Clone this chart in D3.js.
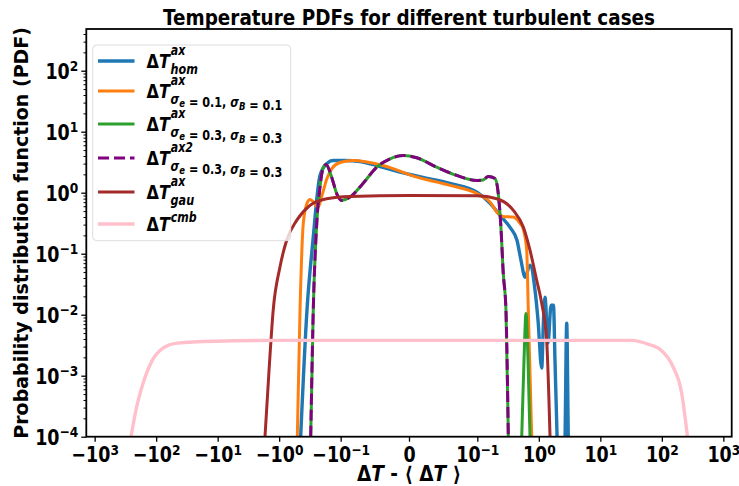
<!DOCTYPE html>
<html>
<head>
<meta charset="utf-8">
<script src="https://cdn.jsdelivr.net/npm/d3@7"></script>
<style>
  body { margin: 0; background: #fff; }
  svg { display: block; font-family: "DejaVu Sans", sans-serif; font-weight: bold; }
</style>
</head>
<body>
<svg id="chart" width="739" height="486"></svg>
<script>
//// Data (x = ΔT - <ΔT>, y = PDF)
const homX = [-0.447, -0.353, -0.282, -0.217, -0.167, -0.133, -0.0937, -0.0717, -0.0424, -0.0132, 0.0234, 0.060, 0.0995, 0.161, 0.234, 0.340, 0.441, 0.513, 0.596, 0.718, 0.867, 0.970, 1.114, 1.19, 1.26, 1.41, 1.58, 1.73, 1.83, 1.98, 2.29, 2.67, 2.84, 3.01, 3.3];
const homY = [1e-4, 0.0119, 0.166, 1.92, 3.02, 3.38, 3.38, 3.25, 2.69, 2.17, 1.75, 1.42, 1.02, 0.668, 0.425, 0.270, 0.166, 0.078, 0.0411, 0.0646, 0.0252, 0.0081, 0.00133, 0.0081, 0.0193, 0.00342, 0.0143, 0.0143, 0.0018, 1e-4, 1e-6, 1e-4, 0.00726, 1e-4, 1e-6];

const s01X = [-0.507, -0.458, -0.405, -0.353, -0.315, -0.272, -0.234, -0.201, -0.167, -0.138, -0.1026, -0.082, -0.038, 0.0117, 0.060, 0.0995, 0.161, 0.217, 0.261, 0.380, 0.494, 0.553, 0.635, 0.674, 0.766];
const s01Y = [1e-4, 0.0119, 0.315, 0.668, 0.776, 0.694, 0.574, 0.904, 1.71, 2.50, 3.13, 3.38, 2.80, 1.80, 1.32, 0.964, 0.702, 0.458, 0.409, 0.399, 0.315, 0.260, 0.114, 0.0119, 1e-4];

const s03X = [-0.307, -0.279, -0.245, -0.217, -0.191, -0.173, -0.140, -0.116, -0.0985, -0.0863, -0.0673, -0.0473, -0.0278, -0.0083, 0.0113, 0.0405, 0.0698, 0.0991, 0.124, 0.151, 0.194, 0.219, 0.240, 0.264, 0.292, 0.319];
const s03Y = [1e-4, 0.0119, 0.315, 1.24, 2.62, 2.90, 1.80, 0.964, 0.748, 0.847, 1.42, 2.62, 3.60, 4.08, 3.74, 2.62, 1.92, 1.59, 1.62, 1.85, 1.71, 0.964, 0.31, 0.0477, 0.0119, 1e-4];
// extra narrow spike of the sigma=0.3 case (not in ax2)
const spikeX = [0.42, 0.527, 0.574, 0.618, 0.667, 0.718, 0.8];
const spikeY = [1e-7, 1e-4, 0.0018, 0.0105, 0.0018, 1e-4, 1e-7];

const gauX = [-1.70, -1.46, -1.25, -0.970, -0.755, -0.519, -0.315, -0.169, -0.0863, 0, 0.0991, 0.207, 0.385, 0.559, 0.718, 0.923, 1.114, 1.34, 1.52];
const gauY = [1e-4, 0.00124, 0.0119, 0.0605, 0.166, 0.352, 0.62, 0.797, 0.869, 0.904, 0.89, 0.797, 0.513, 0.273, 0.114, 0.0367, 0.0154, 0.00383, 1e-4];

const cmbX = [-256, -213, -170, -115, -77.4, -45, -11, -1, 0, 1, 10, 32.7, 59.6, 97, 152, 210, 261];
const cmbY = [1e-4, 2.74e-4, 6.58e-4, 0.0018, 0.00283, 0.00342, 0.00368, 0.0038, 0.0038, 0.0038, 0.0038, 0.0038, 0.00329, 0.00262, 0.0014, 5.19e-4, 1e-4];

//// Ticks
const xTickValues = [-1000, -100, -10, -1, -0.1, 0, 0.1, 1, 10, 100, 1000];
const xTickLabels = ['−10^3', '−10^2', '−10^1', '−10^0', '−10^−1', '0', '10^−1', '10^0', '10^1', '10^2', '10^3'];
const yTickValues = [1e-4, 1e-3, 1e-2, 1e-1, 1, 10, 100];
const yTickLabels = ['10^−4', '10^−3', '10^−2', '10^−1', '10^0', '10^1', '10^2'];

//// Legend text
const legendSup = ['ax', 'ax', 'ax', 'ax2', 'ax', 'cmb'];
const legendSub = [
  [['hom', 0]],
  [['σ', 0], ['e', 1], [' = 0.1, ', 0], ['σ', 0], ['B', 1], [' = 0.1', 0]],
  [['σ', 0], ['e', 1], [' = 0.3, ', 0], ['σ', 0], ['B', 1], [' = 0.3', 0]],
  [['σ', 0], ['e', 1], [' = 0.3, ', 0], ['σ', 0], ['B', 1], [' = 0.3', 0]],
  [['gau', 0]],
  []
];

//// Layout
const mLeft = 86.3, mRight = 731.7, mTop = 29, mBottom = 436.7;
const sy = 1.2; // the picture's text is a bit taller than wide
const svg = d3.select('#chart');

// matplotlib style symlog, linthresh 0.1, linscale 1
const linthresh = 0.1, linscale = 1 / (1 - 1 / 10);
function symlog(v) {
  const a = Math.abs(v);
  return Math.sign(v) * (a <= linthresh ? a / linthresh * linscale : linscale + Math.log10(a / linthresh));
}
const xLim = 5.247;
const x = d3.scaleLinear().domain([-xLim, xLim]).range([mLeft, mRight]);
const y = d3.scaleLog().domain([1e-4, 483]).range([mBottom, mTop]);

svg.append('clipPath').attr('id', 'plotclip')
  .append('rect').attr('x', mLeft).attr('y', mTop).attr('width', mRight - mLeft).attr('height', mBottom - mTop);

const series = [
  { xs: homX, ys: homY, color: '#1f77b4', width: 3.4 },
  { xs: s01X, ys: s01Y, color: '#ff7f0e', width: 3 },
  { xs: s03X.concat(spikeX), ys: s03Y.concat(spikeY), color: '#2ca02c', width: 3 },
  { xs: s03X, ys: s03Y, color: '#800080', width: 3, dash: '11,5' },
  { xs: gauX, ys: gauY, color: '#a52a2a', width: 3 },
  { xs: cmbX, ys: cmbY, color: '#ffc0cb', width: 3.4 }
];

const line = d3.line()
  .x(d => x(symlog(d[0])))
  .y(d => y(d[1]))
  .curve(d3.curveMonotoneX);

const plot = svg.append('g').attr('clip-path', 'url(#plotclip)');
series.forEach(s => {
  plot.append('path')
    .datum(s.xs.map((v, i) => [v, s.ys[i]]))
    .attr('d', line)
    .attr('fill', 'none')
    .attr('stroke', s.color)
    .attr('stroke-width', s.width)
    .attr('stroke-dasharray', s.dash || null)
    .attr('stroke-linejoin', 'round');
});

//// Helpers
function stretchedText(parent, x0, y0) {
  return parent.append('text').attr('transform', `translate(${x0},${y0}) scale(1,${sy})`);
}
function powerLabel(sel, label) {
  const parts = label.split('^');
  sel.text(null);
  sel.append('tspan').text(parts[0]);
  if (parts[1]) sel.append('tspan').attr('dy', '-0.5em').attr('font-size', '0.7em').text(parts[1]);
}

//// Axes
const xAxis = d3.axisBottom(x)
  .tickValues(xTickValues.map(symlog))
  .tickSize(5).tickFormat('');
const gx = svg.append('g').attr('transform', `translate(0,${mBottom})`).call(xAxis);
gx.select('.domain').remove();
gx.selectAll('.tick line').attr('stroke-width', 1.3);
gx.selectAll('.tick text')
  .attr('font-size', 17.5).attr('font-family', 'DejaVu Sans').attr('font-weight', 'bold')
  .attr('y', 0).attr('dy', 0)
  .attr('transform', `translate(0,25.5) scale(1,${sy})`)
  .each(function (d, i) { powerLabel(d3.select(this), xTickLabels[i]); });

const yAxis = d3.axisLeft(y).tickValues(yTickValues).tickSize(5).tickFormat('');
const gy = svg.append('g').attr('transform', `translate(${mLeft},0)`).call(yAxis);
gy.select('.domain').remove();
gy.selectAll('.tick line').attr('stroke-width', 1.3);
gy.selectAll('.tick text')
  .attr('font-size', 17.5).attr('font-family', 'DejaVu Sans').attr('font-weight', 'bold')
  .attr('x', 0).attr('dy', 0)
  .attr('transform', `translate(-8,7.5) scale(1,${sy})`)
  .each(function (d, i) { powerLabel(d3.select(this), yTickLabels[i]); });

const minor = [];
for (let e = -4; e <= 2; e++) for (let m = 2; m <= 9; m++) if (m * 10 ** e < 483) minor.push(m * 10 ** e);
const gym = svg.append('g').attr('transform', `translate(${mLeft},0)`)
  .call(d3.axisLeft(y).tickValues(minor).tickSize(2.8).tickFormat(''));
gym.select('.domain').remove();
gym.selectAll('.tick line').attr('stroke-width', 1);

// spines
svg.append('rect')
  .attr('x', mLeft).attr('y', mTop).attr('width', mRight - mLeft).attr('height', mBottom - mTop)
  .attr('fill', 'none').attr('stroke', '#000').attr('stroke-width', 1.8);

//// Title and axis labels
stretchedText(svg, (mLeft + mRight) / 2, 25)
  .attr('text-anchor', 'middle').attr('font-size', 18.4)
  .text('Temperature PDFs for different turbulent cases');

const xl = svg.append('text')
  .attr('transform', `translate(${(mLeft + mRight) / 2},480.5) scale(1,1.1)`)
  .attr('text-anchor', 'middle').attr('font-size', 18.5);
xl.append('tspan').text('Δ');
xl.append('tspan').attr('font-style', 'italic').text('T');
xl.append('tspan').text(' - ⟨ Δ');
xl.append('tspan').attr('font-style', 'italic').text('T');
xl.append('tspan').text(' ⟩');

svg.append('text')
  .attr('transform', `translate(28,${(mTop + mBottom) / 2}) rotate(-90)`)
  .attr('text-anchor', 'middle').attr('font-size', 19)
  .text('Probability distribution function (PDF)');

//// Legend
const legendRowY = [61, 91, 124, 158, 192, 224];
const lg = svg.append('g');
lg.append('rect')
  .attr('x', 92.7).attr('y', 45).attr('width', 198).attr('height', 195.7).attr('rx', 4)
  .attr('fill', '#fff').attr('fill-opacity', 0.8).attr('stroke', '#dddddd').attr('stroke-width', 1);

series.forEach((s, i) => {
  const ly = legendRowY[i];
  lg.append('line')
    .attr('x1', 98).attr('x2', 134.5).attr('y1', ly).attr('y2', ly)
    .attr('stroke', s.color).attr('stroke-width', s.width).attr('stroke-dasharray', s.dash || null);

  const main = stretchedText(lg, 146.5, ly + 7).attr('font-size', 16);
  main.append('tspan').text('Δ');
  main.append('tspan').attr('font-style', 'italic').text('T');
  const w = main.node().getComputedTextLength();
  const hasSub = legendSub[i].length > 0;

  stretchedText(lg, 146.5 + w + 1, ly + 7 - (hasSub ? 13 : 9))
    .attr('font-size', 11).attr('font-style', 'italic')
    .text(legendSup[i]);

  if (hasSub) {
    const sub = stretchedText(lg, 146.5 + w + 0.8, ly + 12.5)
      .attr('font-size', 11.2).attr('font-style', 'italic');
    legendSub[i].forEach(([t, lvl]) => {
      if (lvl === 1) {
        sub.append('tspan').attr('dy', 2.5).attr('font-size', 8.5).text(t);
        sub.append('tspan').attr('dy', -2.5).text('');
      } else {
        sub.append('tspan').attr('font-style', /^[a-zσ]+$/.test(t) ? 'italic' : 'normal').text(t);
      }
    });
  }
});
</script>
</body>
</html>
